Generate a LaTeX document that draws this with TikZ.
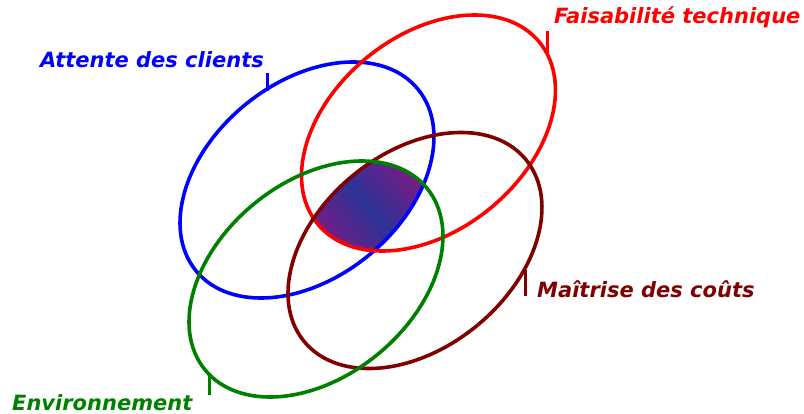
\documentclass[tikz,border=0pt]{standalone}
\usepackage{fontspec}
\newfontfamily\labfont{DejaVu Sans}
\definecolor{cblue}{RGB}{0,0,255}
\definecolor{cred}{RGB}{255,0,0}
\definecolor{cgreen}{RGB}{0,128,0}
\definecolor{cmaroon}{RGB}{128,0,0}
\definecolor{purp}{RGB}{122,28,132}
\definecolor{blu}{RGB}{45,50,150}
\tikzset{
  ring/.style={line width=3.6pt},
  tick/.style={line width=3pt},
  lab/.style={anchor=base west, inner sep=0pt, font=\labfont\bfseries\itshape\fontsize{21}{24}\selectfont}
}
\def\ea{143.4}
\def\eb{97.4}
\def\ang{39.3}
\begin{document}
\begin{tikzpicture}[x=1pt,y=1pt]
\useasboundingbox (0,0) rectangle (804,-414);
% centres
\coordinate (cb) at (307,-180);
\coordinate (cr) at (428.5,-133);
\coordinate (cg) at (316,-279);
\coordinate (cm) at (415,-250.5);
% shaded common part
\begin{scope}
  \clip[rotate around={\ang:(cb)}] (cb) ellipse [x radius=\ea, y radius=\eb];
  \clip[rotate around={\ang:(cr)}] (cr) ellipse [x radius=\ea, y radius=\eb];
  \clip[rotate around={\ang:(cg)}] (cg) ellipse [x radius=\ea, y radius=\eb];
  \clip[rotate around={\ang:(cm)}] (cm) ellipse [x radius=\ea, y radius=\eb];
  \shade[top color=purp, bottom color=purp, middle color=blu, shading angle=-50]
    (312,-150) rectangle (424,-262);
\end{scope}
% ellipses
\draw[ring, cblue, rotate around={\ang:(cb)}] (cb) ellipse [x radius=\ea, y radius=\eb];
\draw[ring, cred, rotate around={\ang:(cr)}] (cr) ellipse [x radius=\ea, y radius=\eb];
\draw[ring, cmaroon, rotate around={\ang:(cm)}] (cm) ellipse [x radius=\ea, y radius=\eb];
\draw[ring, cgreen, rotate around={\ang:(cg)}] (cg) ellipse [x radius=\ea, y radius=\eb];
% ticks
\coordinate (tb1) at (267,-73);  \coordinate (tb2) at (267,-91);
\coordinate (tr1) at (547,-31);  \coordinate (tr2) at (547,-55);
\coordinate (tm1) at (525,-270); \coordinate (tm2) at (525,-296);
\coordinate (tg1) at (209,-373); \coordinate (tg2) at (209,-395);
\draw[tick, cblue] (tb1) -- (tb2);
\draw[tick, cred] (tr1) -- (tr2);
\draw[tick, cmaroon] (tm1) -- (tm2);
\draw[tick, cgreen] (tg1) -- (tg2);
% labels
\node[lab, text=cblue] (lb) at (40,-68) {Attente des clients};
\node[lab, text=cred] (lr) at (554,-24) {Faisabilité technique};
\node[lab, text=cmaroon] (lm) at (537,-298) {Maîtrise des coûts};
\node[lab, text=cgreen] (lg) at (12,-410.5) {Environnement};
\end{tikzpicture}
\end{document}
